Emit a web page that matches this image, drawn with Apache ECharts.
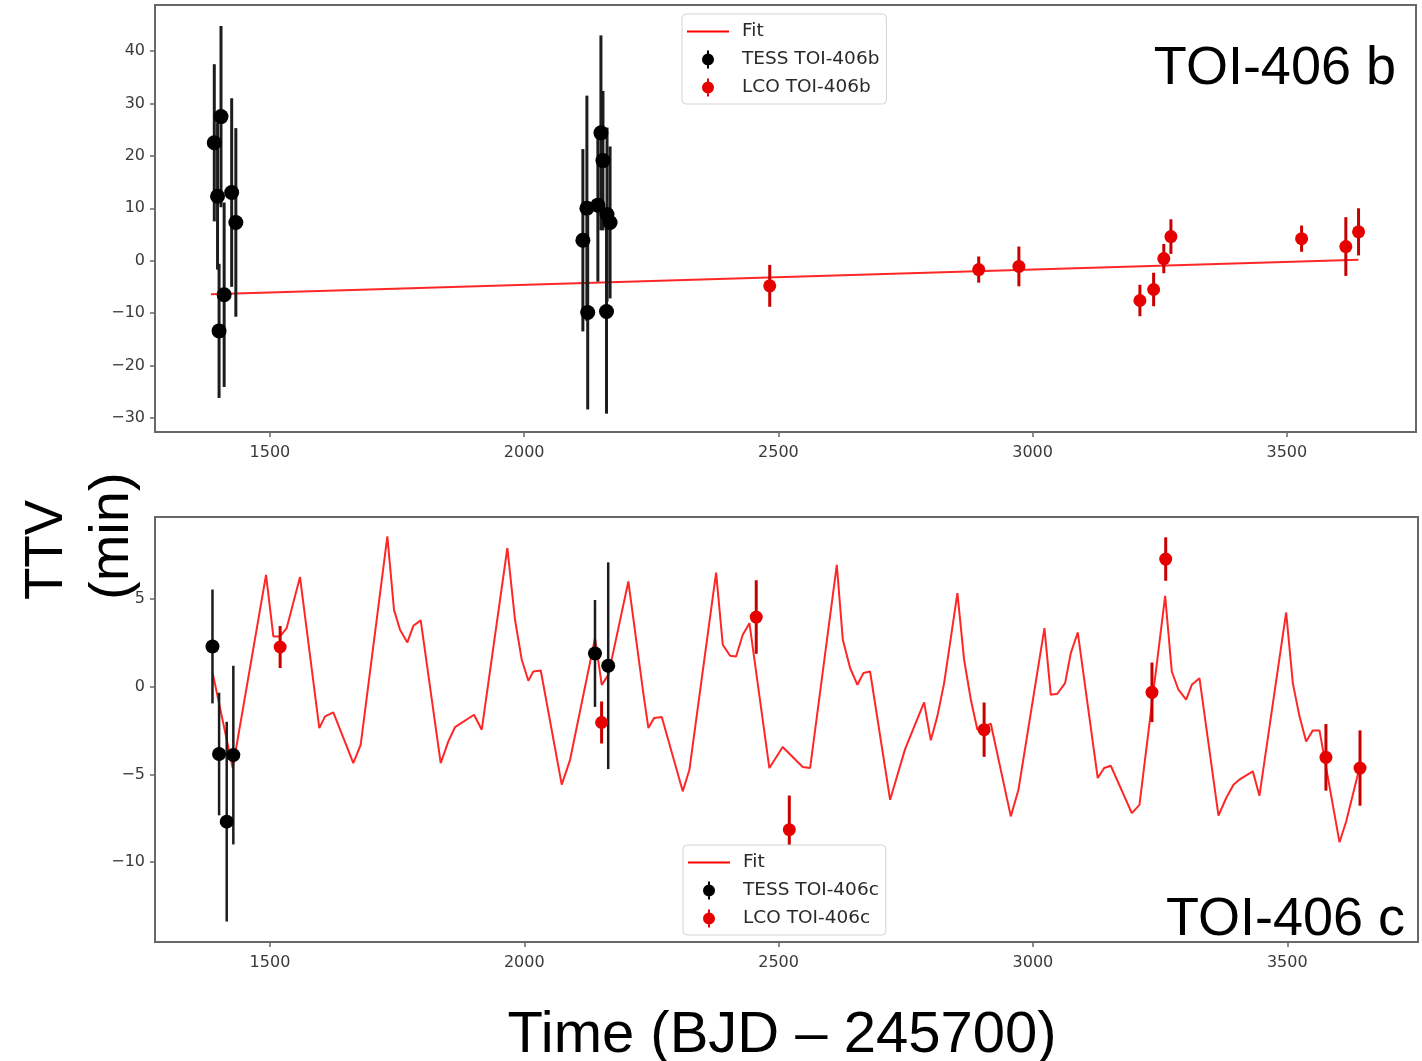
<!DOCTYPE html>
<html>
<head>
<meta charset="utf-8">
<script src="https://cdn.jsdelivr.net/npm/echarts@6/dist/echarts.min.js"></script>
<style>
html,body{margin:0;padding:0;background:#fff;}
#chart{width:1422px;height:1061px;}
</style>
</head>
<body>
<div id="chart"></div>
<script>
// ---------- tick labels ----------
const xTicks = [1500, 2000, 2500, 3000, 3500];
const yTicksB = [-30, -20, -10, 0, 10, 20, 30, 40];
const yTicksC = [-10, -5, 0, 5];

// ---------- TOI-406 b ----------
const tessB_t = [1390.6, 1397, 1400, 1403.8, 1410, 1424.8, 1433, 2115.5, 2123.4, 2125, 2145, 2151, 2155, 2163, 2169, 2162];
const tessB_y = [22.5, 12.3, -13.4, 27.5, -6.5, 13.0, 7.3, 3.9, 10.0, -9.9, 10.6, 24.4, 19.1, 8.8, 7.3, -9.7];
const tessB_e = [15, 14, 12.8, 17.3, 17.6, 18, 18, 17.4, 21.5, 18.5, 14.6, 18.6, 13.3, 16.6, 14.5, 19.5];

const lcoB_t = [2483, 2894, 2973, 3211, 3238, 3258, 3272, 3529, 3616, 3641];
const lcoB_y = [-4.8, -1.7, -1.1, -7.6, -5.5, 0.4, 4.6, 4.2, 2.7, 5.5];
const lcoB_e = [4, 2.5, 3.8, 3, 3.2, 2.8, 3.3, 2.5, 5.6, 4.5];

const fitB_t = [1384, 3641];
const fitB_y = [-6.4, 0.2];

// ---------- TOI-406 c ----------
const tessC_t = [1387, 1400, 1415, 1428, 2139, 2165];
const tessC_y = [2.3, -3.84, -7.7, -3.9, 1.9, 1.2];
const tessC_e = [3.25, 3.5, 5.7, 5.1, 3.05, 5.9];

const lcoC_t = [1520, 2152, 2456, 2521, 2904, 3234, 3261, 3576, 3643];
const lcoC_y = [2.27, -2.04, 3.98, -8.16, -2.45, -0.32, 7.29, -4.03, -4.64];
const lcoC_e = [1.2, 1.2, 2.1, 1.95, 1.55, 1.7, 1.24, 1.9, 2.15];

const fitC_t = [1387.4, 1426.8, 1492.3, 1506.7, 1519.8, 1532.9, 1559.1, 1597, 1608.3, 1624.6,
  1663.9, 1678.4, 1730.8, 1743.9, 1755.7, 1770.1, 1781.9, 1796.4, 1835.7, 1850.7,
  1863.9, 1901.2, 1916.4, 1966.7, 1981.8, 1995, 2008, 2017.8, 2032.4, 2073.6,
  2090, 2139.1, 2152.3, 2165.3, 2204.6, 2234, 2244, 2255.1, 2270.3, 2311.5,
  2324.6, 2377.1, 2390.2, 2404.6, 2416.4, 2429.5, 2442.6, 2481.8, 2508, 2547.4,
  2561.9, 2614.4, 2626.2, 2640.6, 2654.9, 2666.7, 2679.8, 2719.2, 2748.6, 2786,
  2799.2, 2812, 2825.4, 2851.5, 2864.7, 2877.9, 2890.8, 2917.2, 2956.5, 2971.5,
  3022.6, 3035.1, 3048.1, 3063.2, 3074.4, 3088.1, 3127.4, 3140, 3153, 3194.4,
  3209.4, 3259.9, 3273, 3286, 3301.2, 3312.3, 3327.4, 3364.7, 3379.9, 3394.2,
  3407.3, 3432.3, 3445.3, 3497.8, 3510.9, 3524, 3537.1, 3550.3, 3563.3, 3602.7,
  3615.8, 3641.9];
const fitC_y = [0.78, -4.64, 6.39, 2.87, 2.87, 3.35, 6.26, -2.36, -1.69, -1.46,
  -4.36, -3.31, 8.58, 4.39, 3.25, 2.53, 3.48, 3.79, -4.36, -3.12,
  -2.30, -1.60, -2.45, 7.92, 3.82, 1.54, 0.34, 0.87, 0.93, -5.59,
  -4.17, 2.78, 0.11, 0.68, 6.01, -0.36, -2.36, -1.79, -1.73, -5.97,
  -4.74, 6.52, 2.40, 1.77, 1.73, 2.97, 3.63, -4.64, -3.44, -4.58,
  -4.64, 6.96, 2.68, 1.07, 0.11, 0.78, 0.87, -6.45, -3.56, -0.89,
  -3.06, -1.69, 0.21, 5.35, 1.54, -0.74, -2.45, -2.11, -7.40, -5.88,
  3.35, -0.46, -0.40, 0.21, 1.92, 3.10, -5.21, -4.64, -4.51, -7.21,
  -6.74, 5.19, 0.87, -0.17, -0.74, 0.11, 0.49, -7.36, -6.35, -5.59,
  -5.27, -4.83, -6.22, 4.24, 0.21, -1.69, -3.12, -2.49, -2.49, -8.88,
  -7.69, -4.64];

// ---------- helpers ----------
const zip2 = (a, b) => a.map((v, i) => [v, b[i]]);
const zip3 = (a, b, c) => a.map((v, i) => [v, b[i], c[i]]);
const minusFmt = v => (v < 0 ? '\u2212' + Math.abs(v) : String(v));

const FRAME = '#686868';
const tickFont = { fontFamily: 'DejaVu Sans', fontSize: 16, color: '#3a3a3a' };

function xAxisFor(gi, max) {
  return {
    type: 'value', gridIndex: gi, min: 1274, max: max,
    axisLine: { show: false, onZero: false },
    splitLine: { show: false },
    axisTick: { show: true, inside: false, customValues: xTicks, length: 5, lineStyle: { color: FRAME, width: 1.5 } },
    axisLabel: Object.assign({ customValues: xTicks, margin: 13, formatter: minusFmt }, tickFont)
  };
}
function yAxisFor(gi, min, max, ticks) {
  return {
    type: 'value', gridIndex: gi, min: min, max: max,
    axisLine: { show: false, onZero: false },
    splitLine: { show: false },
    axisTick: { show: true, inside: false, customValues: ticks, length: 5, lineStyle: { color: FRAME, width: 1.5 } },
    axisLabel: Object.assign({ customValues: ticks, margin: 10, formatter: minusFmt }, tickFont)
  };
}
function barSeries(gi, t, y, e, color, lw) {
  return {
    type: 'custom', xAxisIndex: gi, yAxisIndex: gi, silent: true,
    data: zip3(t, y, e),
    renderItem: function (params, api) {
      const x = api.value(0), v = api.value(1), er = api.value(2);
      const p0 = api.coord([x, v - er]), p1 = api.coord([x, v + er]);
      return { type: 'line', shape: { x1: p0[0], y1: p0[1], x2: p1[0], y2: p1[1] },
        style: { stroke: color, lineWidth: lw } };
    },
    z: 3
  };
}
function markSeries(gi, name, t, y, color, size) {
  return {
    type: 'scatter', name: name, xAxisIndex: gi, yAxisIndex: gi,
    data: zip2(t, y), symbol: 'circle', symbolSize: size,
    itemStyle: { color: color, opacity: 1 }, z: 4
  };
}
function fitSeries(gi, t, y) {
  return {
    type: 'line', name: 'Fit', xAxisIndex: gi, yAxisIndex: gi,
    data: zip2(t, y), showSymbol: false, symbol: 'none',
    lineStyle: { color: 'rgba(255,0,0,0.85)', width: 2 },
    itemStyle: { color: '#ff0000' }, z: 2
  };
}

const markIcon = 'path://M5,0 H7 V18 H5 Z M0,9 A6,6 0 1,1 12,9 A6,6 0 1,1 0,9 Z';
const lineIcon = 'path://M0,0 H42 V2 H0 Z';
function legendFor(left, top, tess, lco) {
  return {
    data: [{ name: 'Fit', icon: lineIcon }, { name: tess, icon: markIcon }, { name: lco, icon: markIcon }],
    orient: 'vertical', left: left, top: top,
    itemWidth: 42, itemHeight: 18, itemGap: 9,
    padding: [8, 7, 7, 5],
    borderColor: '#d4d4d4', borderWidth: 1, borderRadius: 4, backgroundColor: '#ffffff',
    selectedMode: false,
    textStyle: { fontFamily: 'DejaVu Sans', fontSize: 18.5, color: '#2a2a2a', padding: [0, 0, 0, 8] }
  };
}

const chart = echarts.init(document.getElementById('chart'), null, { renderer: 'canvas' });
chart.setOption({
  animation: false,
  backgroundColor: '#ffffff',
  grid: [
    { left: 155, top: 5, width: 1261, height: 427, show: true, borderColor: FRAME, borderWidth: 2, backgroundColor: 'transparent' },
    { left: 155, top: 517, width: 1263, height: 425, show: true, borderColor: FRAME, borderWidth: 2, backgroundColor: 'transparent' }
  ],
  xAxis: [xAxisFor(0, 3754), xAxisFor(1, 3757)],
  yAxis: [yAxisFor(0, -32.7, 48.8, yTicksB), yAxisFor(1, -14.57, 9.69, yTicksC)],
  legend: [legendFor(682, 14, 'TESS TOI-406b', 'LCO TOI-406b'), legendFor(683, 845, 'TESS TOI-406c', 'LCO TOI-406c')],
  series: [
    fitSeries(0, fitB_t, fitB_y),
    barSeries(0, tessB_t, tessB_y, tessB_e, '#1c1c1c', 3),
    markSeries(0, 'TESS TOI-406b', tessB_t, tessB_y, '#000000', 15),
    barSeries(0, lcoB_t, lcoB_y, lcoB_e, '#c80000', 3),
    markSeries(0, 'LCO TOI-406b', lcoB_t, lcoB_y, '#e60000', 13),

    fitSeries(1, fitC_t, fitC_y),
    barSeries(1, tessC_t, tessC_y, tessC_e, '#1c1c1c', 2.5),
    markSeries(1, 'TESS TOI-406c', tessC_t, tessC_y, '#000000', 14),
    barSeries(1, lcoC_t, lcoC_y, lcoC_e, '#c80000', 3),
    markSeries(1, 'LCO TOI-406c', lcoC_t, lcoC_y, '#e60000', 13)
  ],
  graphic: [
    { type: 'text', x: 1396, y: 69, z: 10,
      style: { text: 'TOI-406 b', font: '54px "Liberation Sans", Arial, sans-serif', fill: '#000', textAlign: 'right', textVerticalAlign: 'middle' } },
    { type: 'text', x: 1405, y: 920, z: 10,
      style: { text: 'TOI-406 c', font: '54px "Liberation Sans", Arial, sans-serif', fill: '#000', textAlign: 'right', textVerticalAlign: 'middle' } },
    { type: 'text', x: 782, y: 1036, z: 10,
      style: { text: 'Time (BJD \u2013 245700)', font: '58px "Liberation Sans", Arial, sans-serif', fill: '#000', textAlign: 'center', textVerticalAlign: 'middle' } },
    { type: 'text', x: 47, y: 600, rotation: Math.PI / 2, z: 10,
      style: { text: 'TTV', font: '53px "Liberation Sans", Arial, sans-serif', fill: '#000', textAlign: 'left', textVerticalAlign: 'middle' } },
    { type: 'text', x: 113, y: 600, rotation: Math.PI / 2, z: 10,
      style: { text: '(min)', font: '56px "Liberation Sans", Arial, sans-serif', fill: '#000', textAlign: 'left', textVerticalAlign: 'middle' } }
  ]
});
</script>
</body>
</html>
